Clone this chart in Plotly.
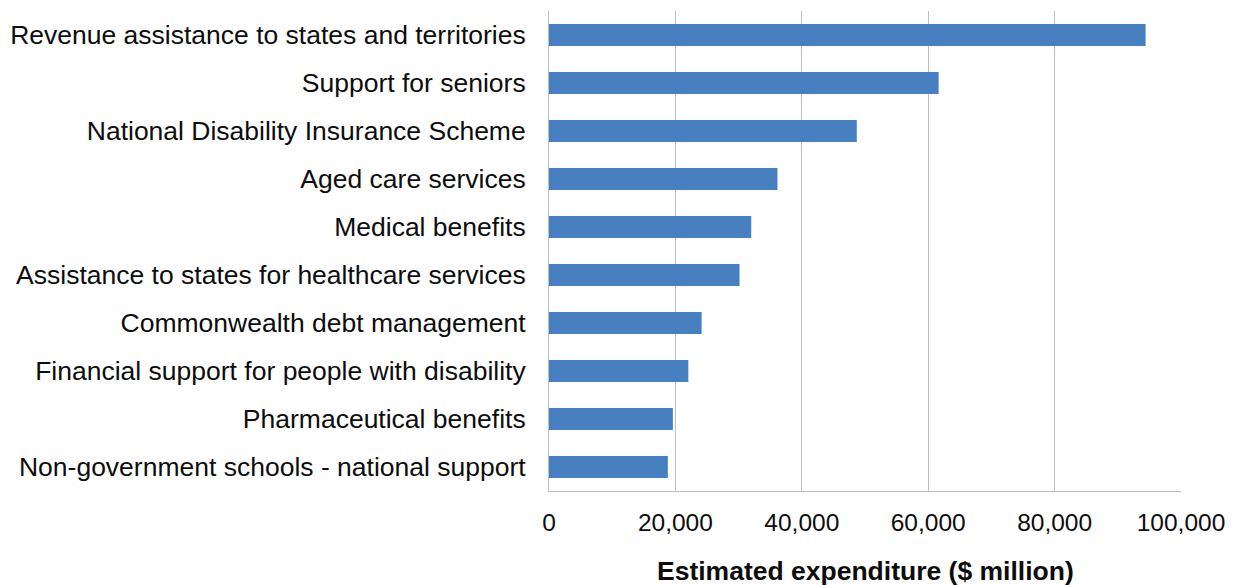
import plotly.graph_objects as go

# Programme names, listed top to bottom as they appear on the chart
programs = [
    "Revenue assistance to states and territories",
    "Support for seniors",
    "National Disability Insurance Scheme",
    "Aged care services",
    "Medical benefits",
    "Assistance to states for healthcare services",
    "Commonwealth debt management",
    "Financial support for people with disability",
    "Pharmaceutical benefits",
    "Non-government schools - national support",
]

# Estimated expenditure, $ million
expenditure = [94400, 61650, 48700, 36150, 32000, 30150, 24150, 22050, 19600, 18800]

x_ticks = [0, 20000, 40000, 60000, 80000, 100000]
x_tick_text = ["0", "20,000", "40,000", "60,000", "80,000", "100,000"]
x_title = "Estimated expenditure ($ million)"

BAR_COLOR = "#4680C1"
GRID_COLOR = "#BFBFBF"
TEXT_COLOR = "#0D0D0D"
FONT = "Liberation Sans, Arial, sans-serif"

fig = go.Figure(
    go.Bar(
        x=expenditure,
        y=programs,
        orientation="h",
        marker=dict(color=BAR_COLOR, line=dict(width=0)),
        width=0.46,
    )
)

fig.update_layout(
    width=1239,
    height=585,
    margin=dict(l=549, r=58, t=11, b=94),
    paper_bgcolor="white",
    plot_bgcolor="white",
    showlegend=False,
    font=dict(family=FONT, color=TEXT_COLOR, size=26),
    bargap=0.54,
)

fig.update_xaxes(
    range=[0, 100000],
    tickvals=x_ticks,
    ticktext=x_tick_text,
    tickfont=dict(size=24.5, family=FONT, color=TEXT_COLOR),
    showgrid=True,
    gridcolor=GRID_COLOR,
    gridwidth=1,
    zeroline=False,
    showline=True,
    linecolor=GRID_COLOR,
    linewidth=1,
    ticks="",
    ticklabelstandoff=10,
    automargin=False,
    fixedrange=True,
)

fig.update_yaxes(
    categoryorder="array",
    categoryarray=programs[::-1],
    tickfont=dict(size=26.5, family=FONT, color=TEXT_COLOR),
    showgrid=False,
    zeroline=False,
    showline=True,
    linecolor=GRID_COLOR,
    linewidth=1,
    ticks="",
    ticklabelstandoff=17,
    automargin=False,
    fixedrange=True,
)

# Axis title placed below the tick labels
fig.add_annotation(
    text=f"<b>{x_title}</b>",
    xref="paper",
    yref="paper",
    x=0.5,
    y=0,
    yshift=-80,
    xanchor="center",
    yanchor="middle",
    showarrow=False,
    font=dict(size=26.5, family=FONT, color=TEXT_COLOR),
)

fig.write_html("out.html")
